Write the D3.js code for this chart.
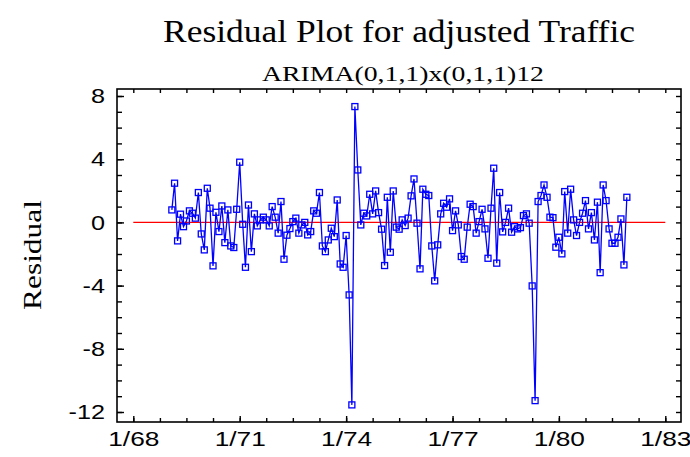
<!DOCTYPE html>
<html>
<head>
<meta charset="utf-8">
<script src="https://cdn.jsdelivr.net/npm/d3@7"></script>
<style>
  html, body { margin: 0; padding: 0; background: #fff; }
  svg { display: block; }
</style>
</head>
<body>
<svg id="chart" width="690" height="457"></svg>
<script>
// Monthly residuals of the seasonal ARIMA model, Feb 1969 .. Dec 1981
const firstMonth = new Date(1969, 1, 1);
const residuals = [
  0.79, 2.48, -1.17, 0.52, -0.27, 0.09, 0.73, 0.58, 0.27, 1.89, -0.73,
  -1.74, 2.16, 0.90, -2.75, 0.64, -0.58, 1.04, -1.28, 0.79, -1.49, -1.59, 0.83,
  3.81, -0.12, -2.84, 1.10, -1.85, 0.54, -0.22, 0.16, 0.33, 0.16, -0.22, 1.00,
  0.33, -0.68, 1.32, -2.33, -0.81, -0.39, 0.05, 0.27, -0.68, -0.16, 0.00, -0.79,
  -0.58, 0.73, 0.58, 1.89, -1.49, -1.85, -1.11, -0.37, -0.90, 1.42, -2.63, -2.84,
  -0.83, -4.59, -11.55, 7.33, 3.32, -0.16, 0.58, 0.41, 1.78, 0.54, 1.99, 0.62,
  -0.43, -2.73, 1.59, -1.89, 1.99, -0.30, -0.43, 0.16, -0.20, 0.27, 1.68, 2.75,
  -0.05, -2.94, 2.10, 1.78, 1.70, -1.49, -3.70, -1.42, 0.54, 1.21, 0.96, 1.49,
  -0.52, 0.73, -0.16, -2.16, -2.33, -0.30, 1.15, 1.00, -0.68, 0.05, 0.83, -0.41,
  -2.27, 0.90, 3.43, -2.58, 1.89, -0.60, 0.00, 0.90, -0.62, -0.27, -0.41, -0.33,
  0.43, 0.54, -0.05, -4.02, -11.28, 1.32, 1.70, 2.37, 1.59, 0.33, 0.30, -1.57,
  -0.94, -1.99, 1.95, -0.68, 2.10, 0.16, -0.83, 0.00, 0.58, 1.38, -0.41, 0.62,
  -1.11, 1.28, -3.18, 2.37, 1.38, -0.41, -1.32, -1.32, -0.94, 0.22, -2.69, 1.59
];

// Axis tick marks and labels
const yMajorTicks = [8, 4, 0, -4, -8, -12];
const yMinorTicks = d3.range(-12, 9, 1);
const xMajorTicks = [1968, 1971, 1974, 1977, 1980, 1983];
const xMinorMonths = d3.range(0, 15 * 12 + 1, 9);
const xTickLabel = d => "1/" + String(d.getFullYear()).slice(2);
const yTickLabel = d => String(d);

const titleText = "Residual Plot for adjusted Traffic";
const subtitleText = "ARIMA(0,1,1)x(0,1,1)12";
const yAxisTitle = "Residual";

const points = residuals.map((v, i) => ({ date: d3.timeMonth.offset(firstMonth, i), value: v }));

const svg = d3.select("#chart");
const frame = { left: 117, right: 681, top: 89, bottom: 422 };

const x = d3.scaleTime()
  .domain([new Date(1968, 0, 1), new Date(1983, 0, 1)])
  .range([133.3, 665.3]);
const y = d3.scaleLinear().domain([-12, 8]).range([412, 96]);

const stretch = 1.25; // wide lettering
function widen(sel, k) {
  sel.each(function () {
    const w = this.getComputedTextLength();
    d3.select(this).attr("textLength", w * k).attr("lengthAdjust", "spacingAndGlyphs");
  });
}

// Zero reference line
svg.append("line")
  .attr("x1", x(new Date(1968, 0, 1))).attr("x2", x(new Date(1983, 0, 1)))
  .attr("y1", y(0)).attr("y2", y(0))
  .attr("stroke", "#ff0000").attr("stroke-width", 1.4);

// Residual series
svg.append("path")
  .datum(points)
  .attr("fill", "none")
  .attr("stroke", "#0000ff")
  .attr("stroke-width", 1.3)
  .attr("d", d3.line().x(d => x(d.date)).y(d => y(d.value)));

svg.append("g").selectAll("rect")
  .data(points)
  .join("rect")
  .attr("x", d => x(d.date) - 3)
  .attr("y", d => y(d.value) - 3)
  .attr("width", 6).attr("height", 6)
  .attr("fill", "none")
  .attr("stroke", "#0000ff")
  .attr("stroke-width", 1.3);

// Frame
svg.append("rect")
  .attr("x", frame.left).attr("y", frame.top)
  .attr("width", frame.right - frame.left).attr("height", frame.bottom - frame.top)
  .attr("fill", "none").attr("stroke", "#000").attr("stroke-width", 1.6);

const tickStyle = g => {
  g.select(".domain").remove();
  g.selectAll(".tick line").attr("stroke", "#000").attr("stroke-width", 1.4);
};

// Y axis: inward ticks on both sides, labels on the left
svg.append("g").attr("transform", `translate(${frame.left},0)`)
  .call(d3.axisLeft(y).tickValues(yMinorTicks).tickSizeInner(-5).tickFormat(""))
  .call(tickStyle);
svg.append("g").attr("transform", `translate(${frame.right},0)`)
  .call(d3.axisRight(y).tickValues(yMinorTicks).tickSizeInner(-5).tickFormat(""))
  .call(tickStyle);
const yAxis = svg.append("g").attr("transform", `translate(${frame.left},0)`)
  .call(d3.axisLeft(y).tickValues(yMajorTicks).tickSizeInner(-7).tickPadding(12).tickFormat(yTickLabel))
  .call(tickStyle);
yAxis.selectAll(".tick text")
  .attr("font-family", "'Liberation Sans', Arial, sans-serif")
  .attr("font-size", 21).attr("fill", "#000")
  .call(widen, 1.2);

// X axis: inward ticks on bottom and top, labels below
const xMinorDates = xMinorMonths.map(m => d3.timeMonth.offset(new Date(1968, 0, 1), m));
const xMajorDates = xMajorTicks.map(yr => new Date(yr, 0, 1));
svg.append("g").attr("transform", `translate(0,${frame.bottom})`)
  .call(d3.axisBottom(x).tickValues(xMinorDates).tickSizeInner(-4).tickFormat(""))
  .call(tickStyle);
svg.append("g").attr("transform", `translate(0,${frame.top})`)
  .call(d3.axisTop(x).tickValues(xMinorDates).tickSizeInner(-4).tickFormat(""))
  .call(tickStyle);
const xAxis = svg.append("g").attr("transform", `translate(0,${frame.bottom})`)
  .call(d3.axisBottom(x).tickValues(xMajorDates).tickSizeInner(-6).tickPadding(9).tickFormat(xTickLabel))
  .call(tickStyle);
xAxis.selectAll(".tick text")
  .attr("font-family", "'Liberation Sans', Arial, sans-serif")
  .attr("font-size", 21).attr("fill", "#000")
  .call(widen, stretch);

// Titles
svg.append("text")
  .attr("x", 399).attr("y", 42)
  .attr("text-anchor", "middle")
  .attr("font-family", "'Liberation Serif', 'Times New Roman', serif")
  .attr("font-size", 32)
  .attr("textLength", 472).attr("lengthAdjust", "spacingAndGlyphs")
  .text(titleText);

svg.append("text")
  .attr("x", 403).attr("y", 81)
  .attr("text-anchor", "middle")
  .attr("font-family", "'Liberation Serif', 'Times New Roman', serif")
  .attr("font-size", 22)
  .attr("textLength", 282).attr("lengthAdjust", "spacingAndGlyphs")
  .text(subtitleText);

svg.append("text")
  .attr("transform", "translate(41,255) rotate(-90)")
  .attr("text-anchor", "middle")
  .attr("font-family", "'Liberation Serif', 'Times New Roman', serif")
  .attr("font-size", 26)
  .attr("textLength", 110).attr("lengthAdjust", "spacingAndGlyphs")
  .text(yAxisTitle);
</script>
</body>
</html>
